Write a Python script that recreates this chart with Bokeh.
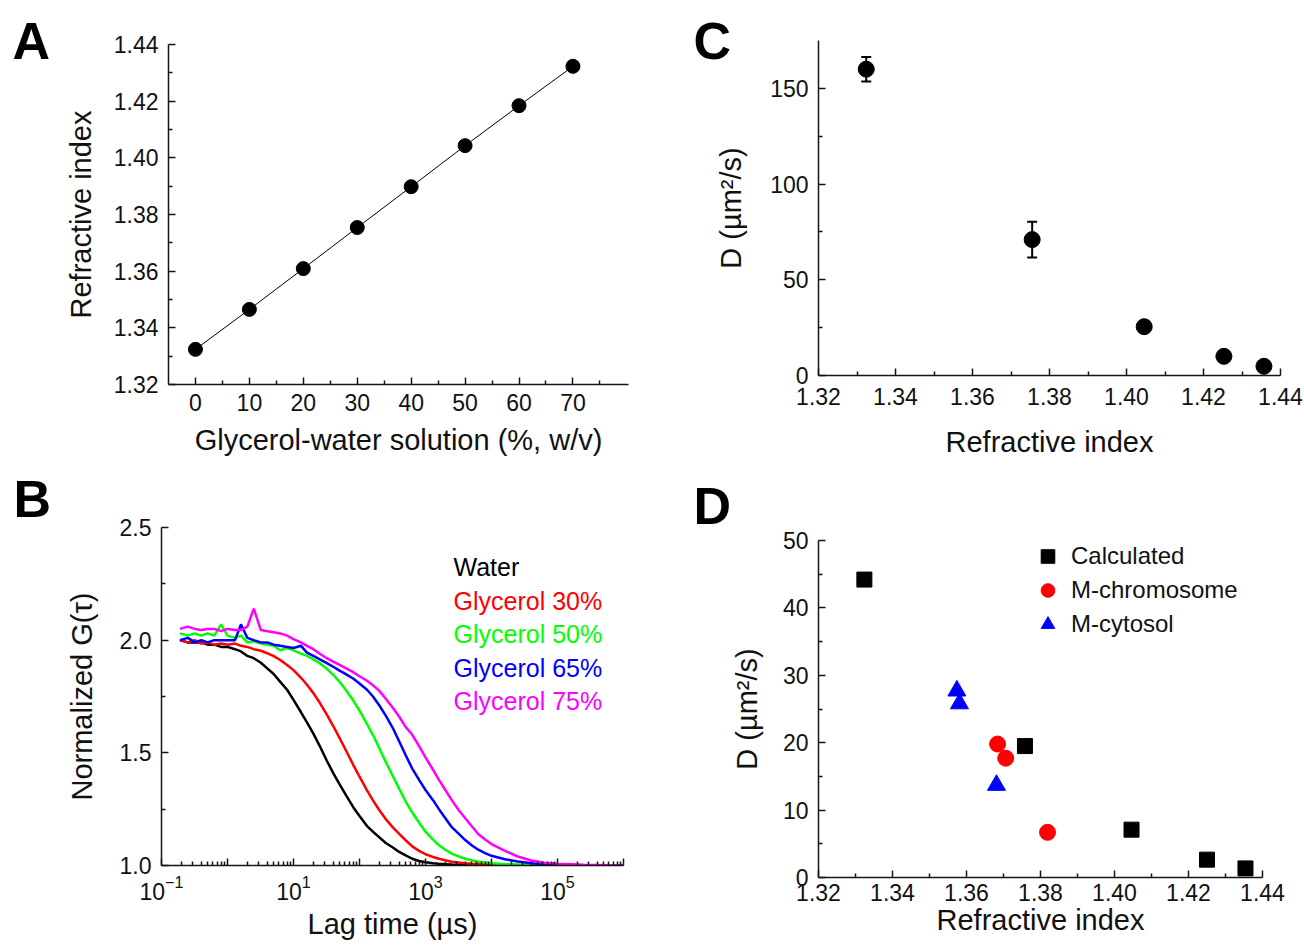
from bokeh.plotting import figure
from bokeh.layouts import column, row
from bokeh.models import (FixedTicker, Range1d, Label, Legend, LegendItem,
                          Whisker, ColumnDataSource, LogTickFormatter,
                          PrintfTickFormatter)
from bokeh.embed import file_html
from bokeh.resources import INLINE

FONT = "Liberation Sans"

# ---------------- Panel A data ----------------
glycerol_pct = [0, 10, 20, 30, 40, 50, 60, 70]
refr_index = [1.3324, 1.3465, 1.3609, 1.3754, 1.3898, 1.4043, 1.4184, 1.4323]

# ---------------- Panel B data ----------------
lag_time_us = [0.19, 0.25, 0.32, 0.4, 0.5, 0.63, 0.8, 1.0, 1.3, 1.6,
               2.0, 2.5, 3.2, 4.0, 5.0, 6.3, 8.0, 10, 13, 16,
               20, 25, 32, 40, 50, 63, 80, 100, 130, 160,
               200, 250, 320, 400, 500, 630, 800, 1000, 1300, 1600,
               2000, 2500, 3200, 4000, 5000, 6300, 8000, 10000, 16000, 25000,
               40000, 63000, 100000, 250000, 1000000]
g_water = [2.00, 1.99, 1.99, 1.99, 1.98, 1.98, 1.97, 1.97, 1.96, 1.95,
           1.93, 1.92, 1.90, 1.875, 1.85, 1.815, 1.78, 1.735, 1.68, 1.635,
           1.585, 1.53, 1.465, 1.41, 1.36, 1.31, 1.26, 1.22, 1.175, 1.15,
           1.125, 1.10, 1.08, 1.06, 1.045, 1.03, 1.02, 1.014, 1.01, 1.008,
           1.006, 1.004, 1.003, 1.002, 1.002, 1.001, 1.001, 1.001, 1.0, 1.0,
           1.0, 1.0, 1.0, 1.0, 1.0]
g_gly30 = [2.00, 1.99, 2.00, 1.985, 1.99, 1.98, 1.985, 1.98, 1.985, 1.975,
           1.97, 1.96, 1.953, 1.942, 1.929, 1.912, 1.89, 1.867, 1.833, 1.802,
           1.765, 1.722, 1.67, 1.619, 1.565, 1.508, 1.448, 1.394, 1.333, 1.289,
           1.245, 1.206, 1.169, 1.14, 1.112, 1.085, 1.065, 1.05, 1.038, 1.03,
           1.023, 1.017, 1.013, 1.01, 1.008, 1.006, 1.005, 1.004, 1.003, 1.002,
           1.001, 1.001, 1.0, 1.0, 1.0]
g_gly50 = [2.03, 2.02, 2.03, 2.02, 2.03, 2.02, 2.07, 2.02, 2.01, 2.02,
           1.99, 1.995, 1.985, 1.98, 1.975, 1.955, 1.965, 1.955, 1.94, 1.93,
           1.915, 1.898, 1.873, 1.846, 1.815, 1.777, 1.733, 1.688, 1.628, 1.579,
           1.52, 1.46, 1.397, 1.34, 1.285, 1.235, 1.19, 1.15, 1.115, 1.09,
           1.07, 1.053, 1.04, 1.03, 1.023, 1.017, 1.013, 1.01, 1.006, 1.004,
           1.002, 1.001, 1.0, 1.0, 1.0]
g_gly65 = [2.00, 2.01, 1.99, 2.00, 1.99, 2.00, 2.00, 2.00, 2.00, 2.07,
           2.01, 2.00, 1.99, 1.99, 1.98, 1.975, 1.97, 1.965, 1.975, 1.945,
           1.93, 1.915, 1.898, 1.882, 1.865, 1.848, 1.83, 1.808, 1.78, 1.75,
           1.71, 1.665, 1.61, 1.55, 1.49, 1.43, 1.38, 1.335, 1.29, 1.25,
           1.21, 1.17, 1.14, 1.113, 1.09, 1.07, 1.055, 1.043, 1.028, 1.018,
           1.01, 1.005, 1.003, 1.001, 1.0]
g_gly75 = [2.05, 2.06, 2.05, 2.045, 2.05, 2.05, 2.04, 2.05, 2.045, 2.045,
           2.06, 2.14, 2.045, 2.04, 2.035, 2.03, 2.02, 2.005, 1.99, 1.975,
           1.96, 1.94, 1.92, 1.905, 1.89, 1.875, 1.858, 1.84, 1.82, 1.80,
           1.775, 1.74, 1.70, 1.66, 1.615, 1.58, 1.53, 1.48, 1.425, 1.38,
           1.335, 1.29, 1.245, 1.21, 1.175, 1.14, 1.115, 1.095, 1.065, 1.04,
           1.022, 1.012, 1.008, 1.003, 1.0]
b_series = [g_water, g_gly30, g_gly50, g_gly65, g_gly75]
b_names = ["Water", "Glycerol 30%", "Glycerol 50%", "Glycerol 65%", "Glycerol 75%"]
b_colors = ["#000000", "#ff0000", "#00ff00", "#0000ff", "#ff00ff"]

# ---------------- Panel C data ----------------
c_ri = [1.3324, 1.3755, 1.4046, 1.4253, 1.4357]
c_D = [160.0, 71.0, 25.5, 10.0, 4.8]
c_err = [6.4, 9.3, 1.5, 1.0, 0.8]

# ---------------- Panel D data ----------------
calc_ri = [1.3324, 1.3758, 1.4046, 1.4250, 1.4354]
calc_D = [44.2, 19.5, 7.1, 2.65, 1.35]
chrom_ri = [1.3684, 1.3706, 1.3819]
chrom_D = [19.8, 17.7, 6.7]
cyto_ri = [1.3574, 1.3581, 1.3681]
cyto_D = [27.7, 25.8, 13.7]
d_names = ["Calculated", "M-chromosome", "M-cytosol"]

RI_TICKS = [1.32, 1.34, 1.36, 1.38, 1.40, 1.42, 1.44]
RI_MINOR = [1.33, 1.35, 1.37, 1.39, 1.41, 1.43]

# ---------------- helpers ----------------
AXC = "#151515"


def make_fig(w, h, xr, yr, left, right, top, bottom, x_axis_type="linear"):
    p = figure(width=w, height=h, x_range=xr, y_range=yr, x_axis_type=x_axis_type,
               output_backend="svg", toolbar_location=None,
               min_border_left=left, min_border_right=right,
               min_border_top=top, min_border_bottom=bottom)
    p.outline_line_color = None
    p.xgrid.visible = False
    p.ygrid.visible = False
    p.background_fill_color = "white"
    p.border_fill_color = "white"
    for ax in p.axis:
        ax.axis_line_color = AXC
        ax.axis_line_width = 1.5
        ax.major_tick_line_color = AXC
        ax.major_tick_line_width = 1.5
        ax.minor_tick_line_color = AXC
        ax.minor_tick_line_width = 1.5
        ax.major_tick_in = 7
        ax.major_tick_out = 0
        ax.minor_tick_in = 4
        ax.minor_tick_out = 0
        ax.major_label_text_font = FONT
        ax.major_label_text_font_size = "23px"
        ax.major_label_text_color = "#111111"
        ax.axis_label_text_font = FONT
        ax.axis_label_text_font_size = "29px"
        ax.axis_label_text_font_style = "normal"
        ax.axis_label_text_color = "#111111"
    p.xaxis.major_label_standoff = 9
    p.yaxis.major_label_standoff = 10
    return p


def set_letter(p, letter, offset, standoff, valign="bottom"):
    p.title.text = letter
    p.title.text_font = FONT
    p.title.text_font_size = "52px"
    p.title.text_font_style = "bold"
    p.title.text_color = "black"
    p.title.align = "left"
    p.title.vertical_align = valign
    p.title.offset = offset
    p.title.standoff = standoff


def add_text(p, x, y, text, size, color):
    p.add_layout(Label(x=x, y=y, x_units="screen", y_units="screen", text=text,
                       text_font=FONT, text_font_size=size, text_color=color,
                       text_align="left", text_baseline="alphabetic"))


# ---------------- Panel A ----------------
pA = make_fig(650, 470, Range1d(-5, 80.3), Range1d(1.32, 1.44), 168, 22, 44, 86)
pA.xaxis.ticker = FixedTicker(ticks=glycerol_pct, minor_ticks=[5, 15, 25, 35, 45, 55, 65, 75])
pA.yaxis.ticker = FixedTicker(ticks=RI_TICKS, minor_ticks=RI_MINOR)
pA.yaxis.formatter = PrintfTickFormatter(format="%.2f")
pA.xaxis.axis_label = "Glycerol-water solution (%, w/v)"
pA.yaxis.axis_label = "Refractive index"
pA.xaxis.axis_label_standoff = 10
pA.yaxis.axis_label_standoff = 14
pA.line(glycerol_pct, refr_index, line_color="black", line_width=1)
pA.scatter(glycerol_pct, refr_index, marker="circle", size=14, color="black")
set_letter(pA, "A", -156, -50)

# ---------------- Panel B ----------------
pB = make_fig(650, 476, Range1d(0.1, 1e6), Range1d(1.0, 2.5), 161, 27, 57, 81,
              x_axis_type="log")
pB.xaxis.ticker = FixedTicker(
    ticks=[0.1, 1, 10, 100, 1000, 10000, 100000, 1000000],
    minor_ticks=[k * 10.0 ** e for e in range(-1, 6) for k in range(2, 10)])
pB.xaxis.formatter = LogTickFormatter()
pB.xaxis.major_label_overrides = {1: "", 100: "", 10000: "", 1000000: ""}
pB.yaxis.ticker = FixedTicker(ticks=[1.0, 1.5, 2.0, 2.5], minor_ticks=[1.25, 1.75, 2.25])
pB.yaxis.formatter = PrintfTickFormatter(format="%.1f")
pB.xaxis.axis_label = "Lag time (\u00b5s)"
pB.yaxis.axis_label = "Normalized G(\u03c4)"
pB.xaxis.axis_label_standoff = 5
pB.yaxis.axis_label_standoff = 19
for g, c in zip(b_series, b_colors):
    pB.line(lag_time_us, g, line_color=c, line_width=2.5)
b_label_y = [299, 265, 232, 198, 165]
for name, c, yy in zip(b_names, b_colors, b_label_y):
    add_text(pB, 292, yy, name, "25px", c)
set_letter(pB, "B", -148, -5, valign="top")

# ---------------- Panel C ----------------
pC = make_fig(654, 470, Range1d(1.32, 1.44), Range1d(0, 175), 168, 24, 40, 95)
pC.xaxis.ticker = FixedTicker(ticks=RI_TICKS, minor_ticks=RI_MINOR)
pC.xaxis.formatter = PrintfTickFormatter(format="%.2f")
pC.yaxis.ticker = FixedTicker(ticks=[0, 50, 100, 150], minor_ticks=[25, 75, 125])
pC.xaxis.axis_label = "Refractive index"
pC.yaxis.axis_label = "D (\u00b5m\u00b2/s)"
pC.xaxis.major_label_standoff = 12
pC.xaxis.axis_label_standoff = 18
pC.yaxis.axis_label_standoff = 20
src_c = ColumnDataSource(dict(x=c_ri, y=c_D,
                              upper=[d + e for d, e in zip(c_D, c_err)],
                              lower=[d - e for d, e in zip(c_D, c_err)]))
wh = Whisker(base="x", upper="upper", lower="lower", source=src_c,
             line_color="black", line_width=2)
wh.upper_head.size = 10
wh.lower_head.size = 10
wh.upper_head.line_width = 2
wh.lower_head.line_width = 2
pC.add_layout(wh)
pC.scatter("x", "y", source=src_c, marker="circle", size=16, color="black")
set_letter(pC, "C", -125, -58)

# ---------------- Panel D ----------------
pD = make_fig(654, 476, Range1d(1.32, 1.44), Range1d(0, 50), 168, 42, 70, 69)
pD.xaxis.ticker = FixedTicker(ticks=RI_TICKS, minor_ticks=RI_MINOR)
pD.xaxis.formatter = PrintfTickFormatter(format="%.2f")
pD.yaxis.ticker = FixedTicker(ticks=[0, 10, 20, 30, 40, 50], minor_ticks=[5, 15, 25, 35, 45])
pD.xaxis.axis_label = "Refractive index"
pD.yaxis.axis_label = "D (\u00b5m\u00b2/s)"
pD.xaxis.major_label_standoff = 6
pD.xaxis.axis_label_standoff = 0
pD.yaxis.axis_label_standoff = 17
r1 = pD.scatter(calc_ri, calc_D, marker="square", size=15, color="black")
r2 = pD.scatter(chrom_ri, chrom_D, marker="circle", size=16, color="red")
r3 = pD.scatter(cyto_ri, cyto_D, marker="triangle", size=18, color="blue")
leg = Legend(items=[LegendItem(label=d_names[0], renderers=[r1]),
                    LegendItem(label=d_names[1], renderers=[r2]),
                    LegendItem(label=d_names[2], renderers=[r3])],
             location=(212, 236), glyph_width=35, glyph_height=34, spacing=0,
             padding=0, margin=0, label_standoff=6, border_line_color=None,
             background_fill_alpha=0, label_text_font=FONT,
             label_text_font_size="24px", label_text_color="#111111")
pD.add_layout(leg)
set_letter(pD, "D", -125, 8, valign="top")

layout = column(row(column(pA), column(pC)), row(column(pB), column(pD)))
open("out.html", "w").write(file_html(layout, INLINE))
